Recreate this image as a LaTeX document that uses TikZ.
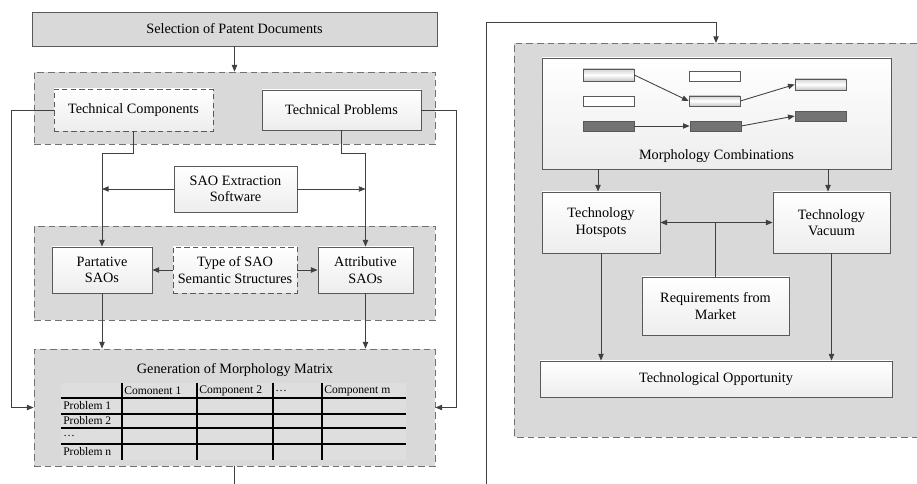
\documentclass[tikz,border=0pt]{standalone}
\usepackage{fontspec}
\setmainfont{Liberation Serif}
\usetikzlibrary{arrows.meta}
\definecolor{grpfill}{HTML}{D9D9D9}
\definecolor{tabfill}{HTML}{DEDEDE}
\definecolor{edgecol}{HTML}{595959}
\definecolor{lncol}{HTML}{404040}
\definecolor{darkbar}{HTML}{737373}
\begin{document}
\begin{tikzpicture}[x=0.75pt,y=-0.75pt,
  wh/.style 2 args={minimum width=#1*0.75pt,minimum height=#2*0.75pt},
  every node/.style={font=\fontsize{10.7}{12.5}\selectfont, inner sep=0pt, align=center, text=black},
  box/.style={draw=edgecol, line width=0.6pt, top color=white, bottom color=gray!14},
  dbox/.style={box, dash pattern=on 4pt off 2.5pt},
  group/.style={draw=edgecol!85, fill=grpfill, line width=0.6pt, dash pattern=on 5pt off 3pt},
  selbox/.style={draw=edgecol, fill=grpfill, line width=0.6pt},
  arr/.style={draw=lncol, line width=0.65pt, -{Triangle[length=5pt,width=4pt]}},
  darr/.style={draw=lncol, line width=0.65pt, {Triangle[length=5pt,width=4pt]}-{Triangle[length=5pt,width=4pt]}},
  plain/.style={draw=lncol, line width=0.65pt},
  lbar/.style={draw=edgecol, line width=0.5pt, top color=gray!35, bottom color=gray!45, middle color=white},
  wbar/.style={draw=edgecol, line width=0.5pt, fill=white},
  dbar/.style={draw=edgecol, line width=0.5pt, fill=darkbar},
  tabtxt/.style={font=\fontsize{8.7}{10}\selectfont, anchor=west},
  tabline/.style={draw=black, line width=0.9pt}
]
\fill[white] (0,0) rectangle (917,484);
\useasboundingbox (0,0) rectangle (917,484);

% ---------- left part ----------
\node[selbox, wh={405}{34}] (sel) at (234.5,29) {Selection of Patent Documents};

\node[group, wh={401}{72}] (g1) at (234.5,108) {};
\node[dbox, wh={159}{42}] (tc) at (133.5,110) {Technical Components};
\node[box, wh={159}{40}] (tp) at (341.5,110) {Technical Problems};

\node[box, wh={123}{46}] (sao) at (235.5,189) {SAO Extraction\\Software};

\node[group, wh={401}{94}] (g2) at (234.5,273) {};
\node[box, wh={100}{46}] (part) at (102,270) {Partative\\SAOs};
\node[dbox, wh={124}{46}] (type) at (235,270) {Type of SAO\\Semantic Structures};
\node[box, wh={95}{46}] (attr) at (365.5,270) {Attributive\\SAOs};

\node[group, wh={401}{117}] (g3) at (234.5,407.5) {};
\node (gtitle) at (235,370) {Generation of Morphology Matrix};

% table
\fill[tabfill] (61,383) rectangle (406,460);
\foreach \yy in {398,414,428,444} \draw[tabline] (61,\yy) -- (406,\yy);
\foreach \xx in {122,197,273,322} \draw[tabline] (\xx,383) -- (\xx,460);
\node[tabtxt] (h1) at (124,391) {Comonent 1};
\node[tabtxt] (h2) at (199,391) {Component 2};
\node[tabtxt] (h3) at (275,391) {\dots};
\node[tabtxt] (h4) at (324,391) {Component m};
\node[tabtxt] (r1) at (63,406) {Problem 1};
\node[tabtxt] (r2) at (63,421) {Problem 2};
\node[tabtxt] (r3) at (63,436) {\dots};
\node[tabtxt] (r4) at (63,452) {Problem n};

% left connectors
\draw[arr] (sel.south) -- (g1.north);
\draw[arr] (tc.west) -- ++(-42,0) |- (g3.west);
\draw[arr] (tp.east) -- ++(35,0) |- (g3.east);
\draw[arr] (tc.south) -- ++(0,22) -| (part.north);
\draw[arr] (tp.south) -- ++(0,23) -| (attr.north);
\draw[arr] (sao.west) -- (sao.west -| part.north);
\draw[arr] (sao.east) -- (sao.east -| attr.north);
\draw[arr] (type.west) -- (part.east);
\draw[arr] (type.east) -- (attr.west);
\draw[arr] (part.south) -- (part.south |- g3.north);
\draw[arr] (attr.south) -- (attr.south |- g3.north);
\coordinate (offL) at (234.5,484);
\draw[plain] (g3.south) -- (offL);

% ---------- right part ----------
\fill[grpfill] (514,43) rectangle (917,437);
\draw[draw=edgecol!85, line width=0.6pt, dash pattern=on 5pt off 3pt] (917,43) -- (514,43) -- (514,437) -- (917,437);
\coordinate (gRtop) at (716,43);
\coordinate (offR) at (486,484);
\draw[arr] (offR) -- (486,22) -| (gRtop);

\node[box, wh={349}{111}] (morph) at (716.5,113.5) {};
\node (mtitle) at (716.5,156) {Morphology Combinations};
\node[lbar, wh={51}{12}] (b11) at (608.5,75) {};
\node[wbar, wh={51}{10}] (b12) at (714.5,76) {};
\node[wbar, wh={51}{10}] (b21) at (608.5,101) {};
\node[lbar, wh={51}{10}] (b22) at (714.5,101) {};
\node[dbar, wh={51}{10}] (b31) at (608.5,126) {};
\node[dbar, wh={51}{10}] (b32) at (715.5,126) {};
\node[lbar, wh={51}{11}] (b13) at (820.5,84.5) {};
\node[dbar, wh={51}{10}] (b23) at (820.5,116) {};
\draw[arr] (b11.east) -- (b22.west);
\draw[arr] (b22.east) -- (b13.west);
\draw[arr] (b31.east) -- (b32.west);
\draw[arr] (b32.east) -- (b23.west);

\node[box, wh={118}{61}] (hot) at (601,222.5) {Technology\\Hotspots};
\node[box, wh={117}{61}] (vac) at (831.5,222.5) {Technology\\Vacuum};
\node[box, wh={147}{58}] (req) at (715.5,306) {Requirements from\\Market};
\node[box, wh={352}{36}] (opp) at (716,379) {Technological Opportunity};

\draw[arr] ([xshift=-2.25pt]hot.north |- morph.south) -- ([xshift=-2.25pt]hot.north);
\draw[arr] ([xshift=-2.6pt]vac.north |- morph.south) -- ([xshift=-2.6pt]vac.north);
\draw[darr] (hot.east) -- (vac.west);
\draw[plain] (req.north) -- (req.north |- hot.east);
\draw[arr] (hot.south) -- (hot.south |- opp.north);
\draw[arr] (vac.south) -- (vac.south |- opp.north);
\end{tikzpicture}
\end{document}
